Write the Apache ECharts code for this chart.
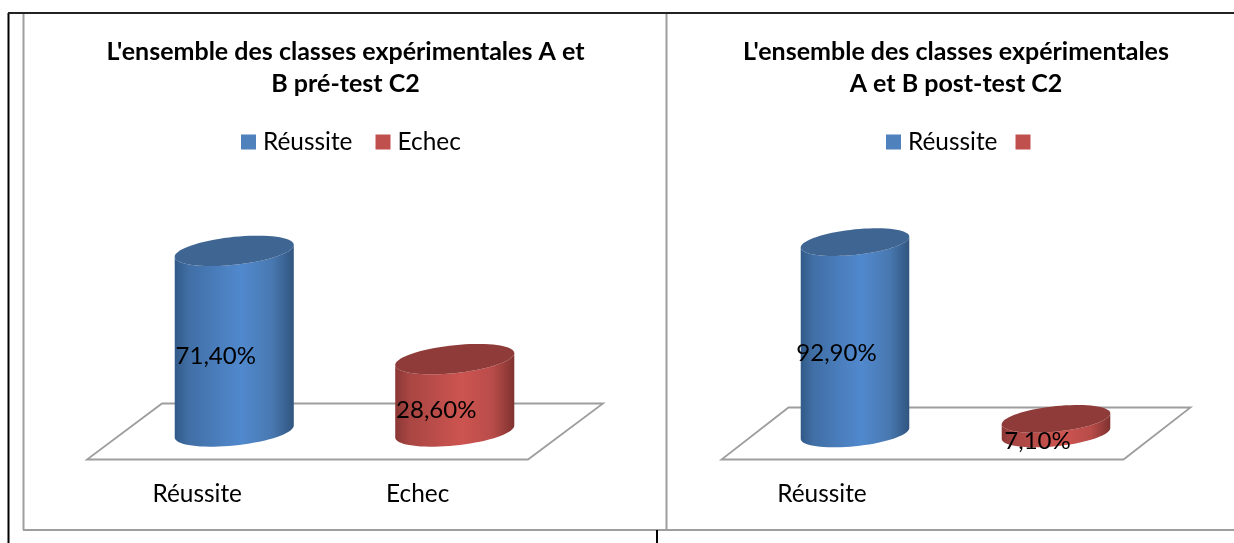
<!DOCTYPE html>
<html>
<head>
<meta charset="utf-8">
<script src="https://cdn.jsdelivr.net/npm/echarts@6/dist/echarts.min.js"></script>
<style>html,body{margin:0;padding:0;background:#fff}#c{width:1234px;height:543px}</style>
</head>
<body>
<div id="c"></div>
<script>
const titleA = "L'ensemble des classes expérimentales A et\nB pré-test C2";
const titleB = "L'ensemble des classes expérimentales\nA et B post-test C2";
const categoriesA = ['Réussite', 'Echec'];
const categoriesB = ['Réussite', ''];
const valuesA = [71.4, 28.6];
const valuesB = [92.9, 7.1];

const FONT = 'Lato, "Open Sans", sans-serif';
const BLUE = {legend:'#4f81bd', top:'#3f6592', stops:['#315a88','#416fa6','#5189ce','#4878b0','#31557f']};
const RED = {legend:'#c0504d', top:'#8e3b39', stops:['#8a3735','#a94643','#cd5450','#b84c49','#7f3230']};
const GREY = '#9e9e9e';

function floorSeries(gridIndex, depth) {
  return {
    type:'custom', xAxisIndex:gridIndex, yAxisIndex:gridIndex, silent:true, z:1,
    data:[[0,0]], legendHoverLink:false,
    renderItem:function(params, api){
      const p = api.coord([0,0]), band = api.size([1,0])[0], n = 2;
      const x0 = p[0]-band/2, y0 = p[1], x1 = x0+band*n;
      return {type:'polygon', shape:{points:[[x0,y0],[x1,y0],[x1+depth[0],y0+depth[1]],[x0+depth[0],y0+depth[1]]]},
        style:{fill:'none', stroke:GREY, lineWidth:1.8}};
    }
  };
}

function cylinderSeries(name, gridIndex, idx, value, pal, depth) {
  return {
    name:name, type:'custom', xAxisIndex:gridIndex, yAxisIndex:gridIndex, silent:true, z:2,
    itemStyle:{color:pal.legend},
    data:[[idx, value]],
    renderItem:function(params, api){
      const v = api.value(1);
      const base = api.coord([api.value(0),0]), tip = api.coord([api.value(0),v]);
      const band = api.size([1,0])[0];
      const hx = band*0.27, b = hx*0.235, k = -0.1;
      const cx = base[0]+depth[0]/2-0.5, yb = base[1]+depth[1]/2, yt = tip[1]+depth[1]/2;
      const pt = function(t, cy){ const dx = hx*Math.cos(t); return [cx+dx, cy+k*dx+b*Math.sin(t)]; };
      const N = 72, ell = [], body = [];
      for (let i=0;i<N;i++) ell.push(pt(2*Math.PI*i/N, yt));
      for (let i=0;i<=N/2;i++) body.push(pt(Math.PI*i/(N/2), yb));
      for (let i=0;i<=N/2;i++) body.push(pt(Math.PI-Math.PI*i/(N/2), yt));
      const s = pal.stops, pos = [0,0.12,0.56,0.82,1];
      const grad = {type:'linear',x:0,y:0,x2:1,y2:0,colorStops:s.map(function(c,i){return {offset:pos[i],color:c};})};
      const label = v.toFixed(2).replace('.',',')+'%';
      return {type:'group', children:[
        {type:'polygon', shape:{points:body}, style:{fill:grad}},
        {type:'polygon', shape:{points:ell}, style:{fill:pal.top}},
        {type:'text', z2:10, style:{x:cx-18.5, y:(yb+yt)/2+15, text:label, fill:'#000', font:'24px '+FONT, align:'center', verticalAlign:'middle'}}
      ]};
    }
  };
}

function frameLine(x1,y1,x2,y2,color,w){
  return {type:'line', shape:{x1:x1,y1:y1,x2:x2,y2:y2}, style:{stroke:color, lineWidth:w}, silent:true};
}

const axisX = function(i,cats){ return {type:'category', gridIndex:i, data:cats,
  axisLine:{show:false}, axisTick:{show:false},
  axisLabel:{margin:23, color:'#000', fontFamily:FONT, fontSize:24.4, interval:0}}; };
const axisY = function(i){ return {type:'value', gridIndex:i, min:0, max:100, show:false}; };
const titleStyle = {color:'#000', fontFamily:FONT, fontWeight:'bold', fontSize:25, lineHeight:32};
const legendBase = {orient:'horizontal', icon:'rect', itemWidth:15, itemHeight:15, top:130, selectedMode:false,
  textStyle:{color:'#000', fontFamily:FONT, fontSize:24.4, padding:[0,0,0,2]}};

const chart = echarts.init(document.getElementById('c'), null, {renderer:'canvas'});
chart.setOption({
  animation:false,
  backgroundColor:'#fff',
  title:[
    {text:titleA, left:345.5, top:36, textAlign:'center', padding:0, textStyle:titleStyle},
    {text:titleB, left:956, top:36, textAlign:'center', padding:0, textStyle:titleStyle}
  ],
  legend:[
    Object.assign({}, legendBase, {left:241, padding:0, itemGap:23, data:[categoriesA[0], categoriesA[1]]}),
    Object.assign({}, legendBase, {left:886, padding:0, itemGap:18, data:[categoriesB[0], ' ']})
  ],
  grid:[
    {left:87, width:441, top:206.5, height:253},
    {left:721.5, width:402, top:253.5, height:206}
  ],
  xAxis:[axisX(0,categoriesA), axisX(1,categoriesB)],
  yAxis:[axisY(0), axisY(1)],
  graphic:[
    frameLine(8.5,13,8.5,543,'#000',2),
    frameLine(8,13,1234,13,'#222',2),
    frameLine(23.5,14,23.5,530,GREY,2),
    frameLine(666.5,14,666.5,530,GREY,2),
    frameLine(23,530,1234,530,GREY,2),
    frameLine(657,530,657,543,'#000',2)
  ],
  series:[
    floorSeries(0,[75,-56]),
    floorSeries(1,[67,-52]),
    cylinderSeries(categoriesA[0],0,0,valuesA[0],BLUE,[75,-56]),
    cylinderSeries(categoriesA[1],0,1,valuesA[1],RED,[75,-56]),
    cylinderSeries(categoriesB[0],1,0,valuesB[0],BLUE,[67,-52]),
    cylinderSeries(' ',1,1,valuesB[1],RED,[67,-52])
  ]
});
</script>
</body>
</html>
